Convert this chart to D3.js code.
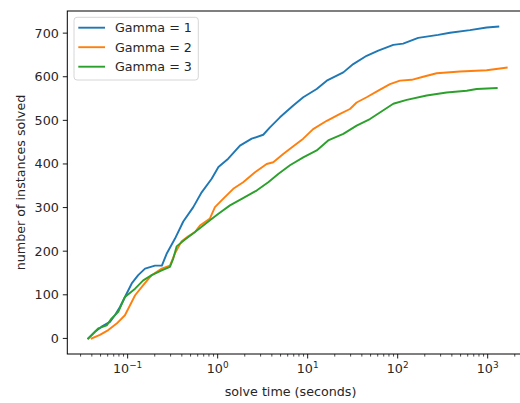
<!DOCTYPE html>
<html>
<head>
<meta charset="utf-8">
<script src="https://cdn.jsdelivr.net/npm/d3@7"></script>
<style>
  body { margin: 0; background: #fff; }
  text { font-family: "DejaVu Sans", sans-serif; fill: #262626; }
</style>
</head>
<body>
<div id="chart"></div>
<script>
// values
let seriesNames = ["Gamma = 1", "Gamma = 2", "Gamma = 3"];
let seriesColors = ["#1f77b4", "#ff7f0e", "#2ca02c"];

let gamma1Time = [0.0365, 0.0433, 0.0514, 0.0636, 0.0722, 0.0821, 0.0933, 0.111, 0.131, 0.156, 0.201, 0.240, 0.271, 0.336, 0.415, 0.536, 0.664, 0.858, 1.02, 1.31, 1.77, 2.39, 3.21, 3.81, 4.92, 6.92, 8.93, 12.6, 16.3, 24.9, 32.1, 45.2, 60.9, 89.4, 115, 169, 282, 381, 635, 975, 1312];
let gamma1Solved = [0, 15, 27, 38, 53, 72, 95, 126, 145, 160, 167, 167, 194, 229, 268, 301, 335, 366, 393, 412, 442, 458, 467, 484, 507, 534, 553, 572, 591, 610, 629, 648, 660, 673, 676, 689, 696, 701, 707, 713, 715];

let gamma2Time = [0.0398, 0.0492, 0.0609, 0.0755, 0.0933, 0.121, 0.149, 0.185, 0.239, 0.295, 0.336, 0.398, 0.471, 0.560, 0.636, 0.821, 0.933, 1.15, 1.49, 1.92, 2.60, 3.50, 4.15, 5.35, 6.64, 8.93, 11.5, 16.3, 22.9, 29.5, 35.0, 45.2, 60.9, 82.1, 106, 143, 192, 271, 492, 975, 1626];
let gamma2Solved = [0, 8, 19, 34, 53, 99, 122, 145, 160, 167, 195, 223, 234, 244, 259, 275, 301, 320, 343, 358, 381, 400, 404, 423, 438, 458, 480, 499, 515, 526, 541, 553, 568, 583, 591, 593, 600, 608, 612, 615, 621];

let gamma3Time = [0.0365, 0.0471, 0.0585, 0.0664, 0.0787, 0.0933, 0.121, 0.149, 0.185, 0.239, 0.295, 0.321, 0.350, 0.434, 0.560, 0.821, 1.02, 1.37, 1.85, 2.71, 3.65, 4.71, 6.36, 8.93, 12.6, 16.9, 24.9, 35.0, 49.2, 63.5, 89.4, 126, 210, 350, 584, 755, 1259];
let gamma3Solved = [0, 23, 30, 46, 61, 95, 114, 133, 145, 156, 164, 183, 211, 227, 244, 271, 286, 305, 320, 339, 358, 377, 397, 415, 431, 454, 469, 488, 503, 518, 538, 547, 557, 564, 568, 572, 574];

let yTicks = [0, 100, 200, 300, 400, 500, 600, 700];
let xTickPowers = [-1, 0, 1, 2, 3];

let width = 520;
let height = 403;
let plotLeft = 67.3;
let plotRight = 527.6;
let plotTop = 11;
let plotBottom = 354;
let fontSize = 12.7;

let series = [
  { name: seriesNames[0], color: seriesColors[0], t: gamma1Time, n: gamma1Solved },
  { name: seriesNames[1], color: seriesColors[1], t: gamma2Time, n: gamma2Solved },
  { name: seriesNames[2], color: seriesColors[2], t: gamma3Time, n: gamma3Solved }
];

let x = d3.scaleLog()
  .domain([Math.pow(10, -1.6705), Math.pow(10, 3.4435)])
  .range([plotLeft, plotRight]);

let y = d3.scaleLinear()
  .domain([-35.75, 750.75])
  .range([plotBottom, plotTop]);

let svg = d3.select("#chart")
  .append("svg")
  .attr("width", width)
  .attr("height", height);

// lines
let line = d3.line()
  .x(d => x(d[0]))
  .y(d => y(d[1]));

series.forEach(function(s) {
  svg.append("path")
    .datum(s.t.map((t, i) => [t, s.n[i]]))
    .attr("d", line)
    .attr("fill", "none")
    .attr("stroke", s.color)
    .attr("stroke-width", 1.9)
    .attr("stroke-linejoin", "round")
    .attr("stroke-linecap", "square");
});

// x axis: major ticks with 10^k labels, minor ticks at 2..9
let xAxis = svg.append("g")
  .attr("transform", "translate(0," + plotBottom + ")");

let minorTicks = [];
for (let p = -2; p <= 3; p++) {
  for (let m = 2; m <= 9; m++) {
    let v = m * Math.pow(10, p);
    if (v > x.domain()[0] && v < x.domain()[1]) minorTicks.push(v);
  }
}

xAxis.selectAll(".minor")
  .data(minorTicks)
  .enter().append("line")
  .attr("x1", d => x(d)).attr("x2", d => x(d))
  .attr("y1", 0).attr("y2", 2.6)
  .attr("stroke", "#000").attr("stroke-width", 0.7);

let majors = xAxis.selectAll(".major")
  .data(xTickPowers)
  .enter().append("g")
  .attr("transform", d => "translate(" + x(Math.pow(10, d)) + ",0)");

majors.append("line")
  .attr("y1", 0).attr("y2", 4.5)
  .attr("stroke", "#000").attr("stroke-width", 0.9);

let xLabel = majors.append("text")
  .attr("y", 19)
  .attr("text-anchor", "middle")
  .style("font-size", fontSize + "px");
xLabel.append("tspan").text("10");
xLabel.append("tspan")
  .attr("dy", -5)
  .style("font-size", (fontSize * 0.7) + "px")
  .text(d => d < 0 ? "\u2212" + Math.abs(d) : d);

svg.append("text")
  .attr("x", 290.5)
  .attr("y", 396)
  .attr("text-anchor", "middle")
  .style("font-size", fontSize + "px")
  .text("solve time (seconds)");

// y axis
let yAxis = svg.append("g");

let yTick = yAxis.selectAll(".ytick")
  .data(yTicks)
  .enter().append("g")
  .attr("transform", d => "translate(" + plotLeft + "," + y(d) + ")");

yTick.append("line")
  .attr("x1", -4.5).attr("x2", 0)
  .attr("stroke", "#000").attr("stroke-width", 0.9);

yTick.append("text")
  .attr("x", -8.5)
  .attr("dy", "0.35em")
  .attr("text-anchor", "end")
  .style("font-size", fontSize + "px")
  .text(d => d);

svg.append("text")
  .attr("transform", "translate(25," + ((plotTop + plotBottom) / 2) + ")rotate(-90)")
  .attr("text-anchor", "middle")
  .style("font-size", fontSize + "px")
  .text("number of instances solved");

// frame
svg.append("rect")
  .attr("x", plotLeft)
  .attr("y", plotTop)
  .attr("width", plotRight - plotLeft)
  .attr("height", plotBottom - plotTop)
  .attr("fill", "none")
  .attr("stroke", "#000")
  .attr("stroke-width", 1);

// legend
let legend = svg.append("g").attr("transform", "translate(74,17.3)");

legend.append("rect")
  .attr("width", 124.3)
  .attr("height", 62.7)
  .attr("rx", 3)
  .attr("fill", "#fff")
  .attr("fill-opacity", 0.8)
  .attr("stroke", "#d6d6d6")
  .attr("stroke-width", 1);

let legendItem = legend.selectAll(".item")
  .data(series)
  .enter().append("g")
  .attr("transform", (d, i) => "translate(0," + (10.4 + i * 19.5) + ")");

legendItem.append("line")
  .attr("x1", 4.3).attr("x2", 31)
  .attr("stroke", d => d.color)
  .attr("stroke-width", 1.9);

legendItem.append("text")
  .attr("x", 41)
  .attr("dy", "0.35em")
  .style("font-size", fontSize + "px")
  .text(d => d.name);
</script>
</body>
</html>
